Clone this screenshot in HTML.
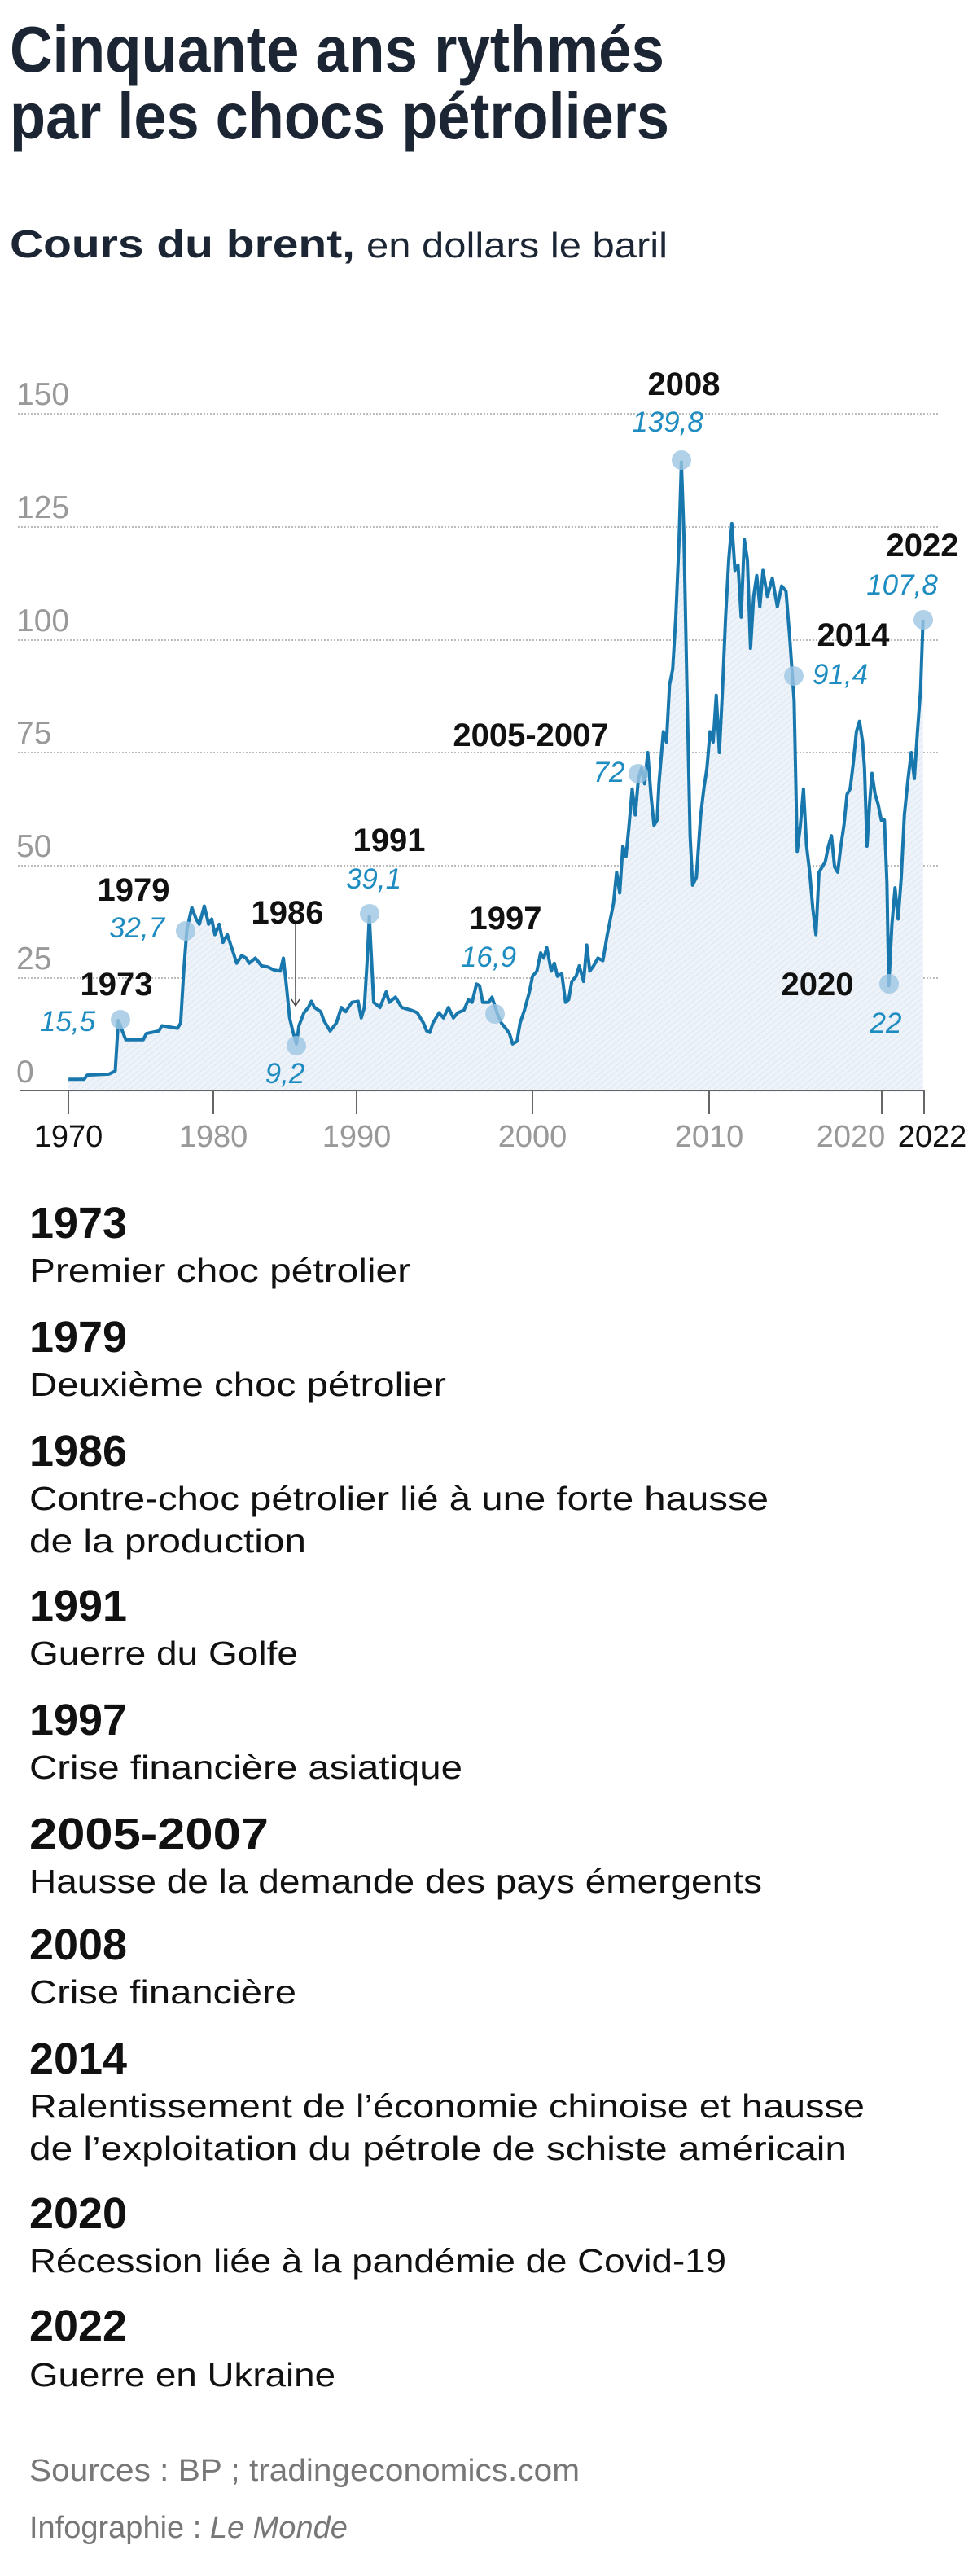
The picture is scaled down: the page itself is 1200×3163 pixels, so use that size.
<!DOCTYPE html>
<html><head><meta charset="utf-8"><style>
html,body{margin:0;padding:0;background:#fff;}
svg{display:block;}
text{font-family:"Liberation Sans",sans-serif;}
</style></head><body>
<svg width="1200" height="3163" viewBox="0 0 1200 3163" xmlns="http://www.w3.org/2000/svg">
<defs>
<pattern id="hatch" width="8" height="8" patternUnits="userSpaceOnUse" patternTransform="rotate(45)">
<rect width="8" height="8" fill="#edf3f9"/>
<line x1="0" y1="0" x2="0" y2="8" stroke="#dde7f2" stroke-width="3"/>
</pattern>
</defs>
<!-- Title -->
<text x="12" y="88" font-size="80" font-weight="bold" fill="#1c2533" textLength="804" lengthAdjust="spacingAndGlyphs">Cinquante ans rythmés</text>
<text x="12" y="170" font-size="80" font-weight="bold" fill="#1c2533" textLength="810" lengthAdjust="spacingAndGlyphs">par les chocs pétroliers</text>
<text x="12" y="316" font-size="48" font-weight="bold" fill="#1c2533" textLength="424" lengthAdjust="spacingAndGlyphs">Cours du brent,</text>
<text x="450" y="316" font-size="44" fill="#1c2533" textLength="370" lengthAdjust="spacingAndGlyphs">en dollars le baril</text>

<!-- gridlines -->
<g stroke="#bbb" stroke-width="2" stroke-dasharray="2 2">
<line x1="22" y1="508" x2="1152" y2="508"/>
<line x1="22" y1="647" x2="1152" y2="647"/>
<line x1="22" y1="786" x2="1152" y2="786"/>
<line x1="22" y1="924" x2="1152" y2="924"/>
<line x1="22" y1="1063" x2="1152" y2="1063"/>
<line x1="22" y1="1201" x2="1152" y2="1201"/>
</g>
<g font-size="39" fill="#999">
<text x="20" y="497">150</text>
<text x="20" y="636">125</text>
<text x="20" y="775">100</text>
<text x="20" y="913">75</text>
<text x="20" y="1052">50</text>
<text x="20" y="1190">25</text>
<text x="20" y="1329">0</text>
</g>

<!-- series -->
<g transform="matrix(0.765,0,0,0.639,0,400)">
<polygon fill="url(#hatch)" points="110,1472 110,1448 135,1448 140,1440 175,1438 185,1432 190,1335 198,1360 202,1372 230,1372 235,1360 255,1355 260,1345 285,1350 290,1340 295,1240 300,1160 308,1118 315,1140 320,1150 328,1115 335,1150 340,1140 345,1170 352,1150 358,1185 365,1170 372,1195 380,1225 388,1210 395,1215 400,1225 410,1215 420,1230 430,1232 440,1238 450,1240 455,1215 460,1270 465,1330 470,1355 476,1380 480,1345 488,1320 495,1310 500,1298 505,1310 515,1318 520,1335 530,1355 540,1340 548,1310 555,1318 565,1300 575,1298 580,1330 585,1310 590,1210 593,1135 597,1230 600,1300 610,1310 620,1280 625,1300 635,1290 645,1310 660,1315 670,1320 680,1340 685,1355 690,1358 695,1340 705,1320 712,1330 720,1310 728,1330 735,1320 745,1315 752,1295 758,1300 765,1265 770,1268 775,1300 785,1300 790,1290 798,1320 805,1340 812,1350 818,1360 823,1380 830,1375 835,1340 842,1315 850,1280 855,1250 862,1240 868,1205 873,1215 878,1195 885,1240 890,1225 895,1250 902,1245 908,1300 913,1295 918,1260 925,1250 930,1230 937,1260 942,1190 947,1240 953,1230 960,1215 968,1220 975,1170 980,1140 985,1110 990,1050 995,1090 1000,1000 1005,1020 1010,960 1015,890 1020,940 1025,870 1030,850 1035,880 1040,820 1045,900 1050,960 1055,950 1058,880 1065,780 1070,800 1075,690 1080,660 1085,560 1090,420 1094,262 1098,400 1103,700 1108,980 1112,1075 1118,1060 1125,940 1130,890 1135,850 1140,780 1145,800 1150,710 1155,820 1160,700 1165,560 1170,450 1175,380 1180,470 1185,460 1190,560 1195,410 1200,450 1205,620 1210,520 1215,480 1220,540 1225,470 1232,520 1240,485 1248,540 1255,500 1262,510 1268,600 1275,720 1280,1010 1285,960 1290,890 1295,1000 1300,1050 1305,1120 1310,1170 1315,1050 1320,1040 1325,1030 1330,1000 1335,980 1340,1040 1345,1050 1350,1000 1355,960 1360,900 1365,890 1370,840 1375,780 1380,760 1385,800 1388,850 1392,1000 1396,920 1400,860 1405,900 1410,920 1415,950 1420,950 1424,1070 1427,1268 1432,1150 1437,1080 1442,1140 1447,1060 1452,940 1458,870 1463,820 1468,870 1473,780 1478,700 1482,565 1482,1472"/>
<polyline fill="none" stroke="#1878ad" stroke-width="4" stroke-linejoin="round" vector-effect="non-scaling-stroke" points="110,1448 135,1448 140,1440 175,1438 185,1432 190,1335 198,1360 202,1372 230,1372 235,1360 255,1355 260,1345 285,1350 290,1340 295,1240 300,1160 308,1118 315,1140 320,1150 328,1115 335,1150 340,1140 345,1170 352,1150 358,1185 365,1170 372,1195 380,1225 388,1210 395,1215 400,1225 410,1215 420,1230 430,1232 440,1238 450,1240 455,1215 460,1270 465,1330 470,1355 476,1380 480,1345 488,1320 495,1310 500,1298 505,1310 515,1318 520,1335 530,1355 540,1340 548,1310 555,1318 565,1300 575,1298 580,1330 585,1310 590,1210 593,1135 597,1230 600,1300 610,1310 620,1280 625,1300 635,1290 645,1310 660,1315 670,1320 680,1340 685,1355 690,1358 695,1340 705,1320 712,1330 720,1310 728,1330 735,1320 745,1315 752,1295 758,1300 765,1265 770,1268 775,1300 785,1300 790,1290 798,1320 805,1340 812,1350 818,1360 823,1380 830,1375 835,1340 842,1315 850,1280 855,1250 862,1240 868,1205 873,1215 878,1195 885,1240 890,1225 895,1250 902,1245 908,1300 913,1295 918,1260 925,1250 930,1230 937,1260 942,1190 947,1240 953,1230 960,1215 968,1220 975,1170 980,1140 985,1110 990,1050 995,1090 1000,1000 1005,1020 1010,960 1015,890 1020,940 1025,870 1030,850 1035,880 1040,820 1045,900 1050,960 1055,950 1058,880 1065,780 1070,800 1075,690 1080,660 1085,560 1090,420 1094,262 1098,400 1103,700 1108,980 1112,1075 1118,1060 1125,940 1130,890 1135,850 1140,780 1145,800 1150,710 1155,820 1160,700 1165,560 1170,450 1175,380 1180,470 1185,460 1190,560 1195,410 1200,450 1205,620 1210,520 1215,480 1220,540 1225,470 1232,520 1240,485 1248,540 1255,500 1262,510 1268,600 1275,720 1280,1010 1285,960 1290,890 1295,1000 1300,1050 1305,1120 1310,1170 1315,1050 1320,1040 1325,1030 1330,1000 1335,980 1340,1040 1345,1050 1350,1000 1355,960 1360,900 1365,890 1370,840 1375,780 1380,760 1385,800 1388,850 1392,1000 1396,920 1400,860 1405,900 1410,920 1415,950 1420,950 1424,1070 1427,1268 1432,1150 1437,1080 1442,1140 1447,1060 1452,940 1458,870 1463,820 1468,870 1473,780 1478,700 1482,565"/>
</g>

<!-- axis -->
<g stroke="#666" stroke-width="2">
<line x1="24" y1="1339" x2="1136" y2="1339"/>
<line x1="84" y1="1339" x2="84" y2="1368"/>
<line x1="262" y1="1339" x2="262" y2="1368"/>
<line x1="438" y1="1339" x2="438" y2="1368"/>
<line x1="654" y1="1339" x2="654" y2="1368"/>
<line x1="871" y1="1339" x2="871" y2="1368"/>
<line x1="1083" y1="1339" x2="1083" y2="1368"/>
<line x1="1135" y1="1339" x2="1135" y2="1368"/>
</g>
<g font-size="38" text-anchor="middle" fill="#999">
<text x="84" y="1408" fill="#111">1970</text>
<text x="262" y="1408">1980</text>
<text x="438" y="1408">1990</text>
<text x="654" y="1408">2000</text>
<text x="871" y="1408">2010</text>
<text x="1045" y="1408">2020</text>
<text x="1145" y="1408" fill="#111">2022</text>
</g>

<!-- dots -->
<g fill="#9cc6e2" fill-opacity="0.8">
<circle cx="148" cy="1252" r="12"/>
<circle cx="228" cy="1143" r="12"/>
<circle cx="364" cy="1284" r="12"/>
<circle cx="454" cy="1122" r="12"/>
<circle cx="608" cy="1245" r="12"/>
<circle cx="784" cy="950" r="12"/>
<circle cx="837" cy="565" r="12"/>
<circle cx="975" cy="830" r="12"/>
<circle cx="1092" cy="1208" r="12"/>
<circle cx="1134" cy="761" r="12"/>
</g>
<!-- arrow 1986 -->
<line x1="363" y1="1135" x2="363" y2="1234" stroke="#444" stroke-width="1.5"/>
<polyline points="358,1227 363,1235 368,1227" fill="none" stroke="#444" stroke-width="1.5"/>

<!-- annotation labels -->
<g font-size="40" font-weight="bold" fill="#111" text-anchor="middle">
<text x="143" y="1222">1973</text>
<text x="164" y="1106">1979</text>
<text x="353" y="1134">1986</text>
<text x="478" y="1045">1991</text>
<text x="621" y="1141">1997</text>
<text x="652" y="916">2005-2007</text>
<text x="840" y="485">2008</text>
<text x="1048" y="793">2014</text>
<text x="1004" y="1222">2020</text>
<text x="1133" y="683">2022</text>
</g>
<g font-size="35" font-style="italic" fill="#1e8cc0" text-anchor="middle">
<text x="83" y="1266">15,5</text>
<text x="168" y="1151">32,7</text>
<text x="350" y="1330">9,2</text>
<text x="459" y="1091">39,1</text>
<text x="600" y="1187">16,9</text>
<text x="748" y="960">72</text>
<text x="820" y="530">139,8</text>
<text x="1032" y="840">91,4</text>
<text x="1088" y="1268">22</text>
<text x="1108" y="730">107,8</text>
</g>

<!-- list -->
<g fill="#111" transform="translate(0,10)">
<g font-size="54" font-weight="bold">
<text x="36" y="1510" textLength="120" lengthAdjust="spacingAndGlyphs">1973</text>
<text x="36" y="1650" textLength="120" lengthAdjust="spacingAndGlyphs">1979</text>
<text x="36" y="1790" textLength="120" lengthAdjust="spacingAndGlyphs">1986</text>
<text x="36" y="1980" textLength="120" lengthAdjust="spacingAndGlyphs">1991</text>
<text x="36" y="2120" textLength="120" lengthAdjust="spacingAndGlyphs">1997</text>
<text x="36" y="2260" textLength="294" lengthAdjust="spacingAndGlyphs">2005-2007</text>
<text x="36" y="2396" textLength="120" lengthAdjust="spacingAndGlyphs">2008</text>
<text x="36" y="2536" textLength="120" lengthAdjust="spacingAndGlyphs">2014</text>
<text x="36" y="2726" textLength="120" lengthAdjust="spacingAndGlyphs">2020</text>
<text x="36" y="2864" textLength="120" lengthAdjust="spacingAndGlyphs">2022</text>
</g>
<g font-size="41">
<text x="36" y="1564" textLength="468" lengthAdjust="spacingAndGlyphs">Premier choc pétrolier</text>
<text x="36" y="1704" textLength="512" lengthAdjust="spacingAndGlyphs">Deuxième choc pétrolier</text>
<text x="36" y="1844" textLength="908" lengthAdjust="spacingAndGlyphs">Contre-choc pétrolier lié à une forte hausse</text>
<text x="36" y="1896" textLength="340" lengthAdjust="spacingAndGlyphs">de la production</text>
<text x="36" y="2034" textLength="330" lengthAdjust="spacingAndGlyphs">Guerre du Golfe</text>
<text x="36" y="2174" textLength="532" lengthAdjust="spacingAndGlyphs">Crise financière asiatique</text>
<text x="36" y="2314" textLength="900" lengthAdjust="spacingAndGlyphs">Hausse de la demande des pays émergents</text>
<text x="36" y="2450" textLength="328" lengthAdjust="spacingAndGlyphs">Crise financière</text>
<text x="36" y="2590" textLength="1026" lengthAdjust="spacingAndGlyphs">Ralentissement de l’économie chinoise et hausse</text>
<text x="36" y="2642" textLength="1004" lengthAdjust="spacingAndGlyphs">de l’exploitation du pétrole de schiste américain</text>
<text x="36" y="2780" textLength="856" lengthAdjust="spacingAndGlyphs">Récession liée à la pandémie de Covid-19</text>
<text x="36" y="2920" textLength="376" lengthAdjust="spacingAndGlyphs">Guerre en Ukraine</text>
</g>
</g>
<g font-size="38" fill="#777">
<text x="36" y="3046" textLength="676" lengthAdjust="spacingAndGlyphs">Sources : BP ; tradingeconomics.com</text>
<text x="36" y="3116">Infographie : <tspan font-style="italic">Le Monde</tspan></text>
</g>
</svg>
</body></html>
